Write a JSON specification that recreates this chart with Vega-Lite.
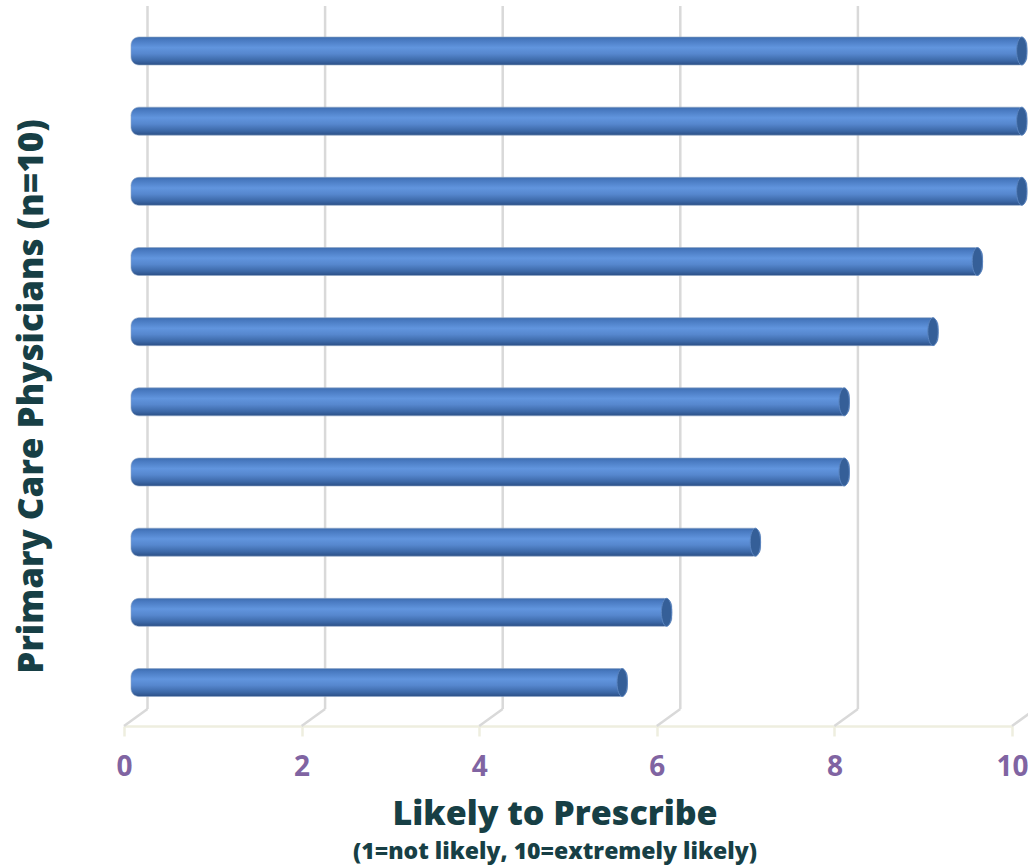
{
  "$schema": "https://vega.github.io/schema/vega-lite/v6.json",
  "width": 888,
  "height": 726,
  "autosize": {"type": "none"},
  "padding": {"left": 124, "top": 0, "right": 16, "bottom": 139},
  "background": "white",
  "config": {"view": {"stroke": null}, "font": "Open Sans"},
  "datasets": {
    "scores": [
      {"physician": 1, "score": 10},
      {"physician": 2, "score": 10},
      {"physician": 3, "score": 10},
      {"physician": 4, "score": 9.5},
      {"physician": 5, "score": 9},
      {"physician": 6, "score": 8},
      {"physician": 7, "score": 8},
      {"physician": 8, "score": 7},
      {"physician": 9, "score": 6},
      {"physician": 10, "score": 5.5}
    ],
    "ticks": [
      {"tick": 0}, {"tick": 2}, {"tick": 4}, {"tick": 6}, {"tick": 8}, {"tick": 10}
    ]
  },
  "title": {
    "text": "Likely to Prescribe",
    "subtitle": "(1=not likely, 10=extremely likely)",
    "orient": "bottom",
    "anchor": "middle",
    "font": "Open Sans",
    "fontSize": 34,
    "fontWeight": 800,
    "color": "#173f45",
    "subtitleFont": "Open Sans",
    "subtitleFontSize": 23,
    "subtitleFontWeight": 800,
    "subtitleColor": "#173f45",
    "subtitlePadding": 9,
    "offset": 17,
    "dx": -13
  },
  "layer": [
    {
      "data": {"name": "ticks"},
      "mark": {"type": "rule", "color": "#d9d9d9", "strokeWidth": 2.5, "xOffset": 23.5},
      "encoding": {
        "x": {"field": "tick", "type": "quantitative", "scale": {"domain": [0, 10], "nice": false, "zero": false, "padding": 0}},
        "y": {"datum": 0.3587, "type": "quantitative"},
        "y2": {"datum": 10.377}
      }
    },
    {
      "data": {"name": "ticks"},
      "mark": {"type": "rule", "color": "#d9d9d9", "strokeWidth": 2.5, "xOffset": 23.5, "x2Offset": 0},
      "encoding": {
        "x": {"field": "tick", "type": "quantitative"},
        "x2": {"field": "tick"},
        "y": {"datum": 10.377, "type": "quantitative"},
        "y2": {"datum": 10.6196}
      }
    },
    {
      "data": {"name": "scores"},
      "mark": {
        "type": "bar",
        "orient": "horizontal",
        "size": 28,
        "cornerRadius": 8,
        "xOffset": 15,
        "x2Offset": 7,
        "stroke": "#8ea6c6",
        "strokeWidth": 0.6,
        "color": {
          "gradient": "linear",
          "x1": 0, "y1": 0, "x2": 0, "y2": 1,
          "stops": [
            {"offset": 0, "color": "#3d6cad"},
            {"offset": 0.1, "color": "#4879c0"},
            {"offset": 0.38, "color": "#6195de"},
            {"offset": 0.6, "color": "#5687ce"},
            {"offset": 0.85, "color": "#3c68a7"},
            {"offset": 1, "color": "#2b4f86"}
          ]
        }
      },
      "encoding": {
        "x": {
          "field": "score",
          "type": "quantitative",
          "scale": {"domain": [0, 10], "nice": false, "zero": false, "padding": 0},
          "axis": {
            "values": [0, 2, 4, 6, 8, 10],
            "format": "d",
            "grid": false,
            "title": null,
            "domainColor": "#eeeedf",
            "domainWidth": 2.5,
            "tickColor": "#eeeedf",
            "tickWidth": 2.5,
            "tickSize": 10,
            "labelFlush": false,
            "labelOverlap": false,
            "labelBound": false,
            "labelFont": "Open Sans",
            "labelFontSize": 28,
            "labelFontWeight": "bold",
            "labelColor": "#8064a2",
            "labelPadding": 17
          }
        },
        "x2": {"datum": 0},
        "y": {
          "field": "physician",
          "type": "quantitative",
          "scale": {"domain": [0.2732, 10.6196], "reverse": true, "nice": false, "zero": false, "padding": 0},
          "axis": {
            "labels": false,
            "ticks": false,
            "domain": false,
            "grid": false,
            "title": "Primary Care Physicians (n=10)",
            "titleFont": "Open Sans",
            "titleFontSize": 35,
            "titleFontWeight": 800,
            "titleColor": "#173f45",
            "titleAngle": -90,
            "titleX": -93,
            "titleY": 396,
            "titleAlign": "center",
            "titleBaseline": "middle"
          }
        }
      }
    },
    {
      "data": {"name": "scores"},
      "mark": {
        "type": "point",
        "shape": "M0,-1A0.37,1,0,1,1,0,1A0.37,1,0,1,1,0,-1Z",
        "size": 784,
        "filled": true,
        "fill": "#355f98",
        "stroke": "#5a84bf",
        "strokeWidth": 1,
        "opacity": 1,
        "xOffset": 9.8
      },
      "encoding": {
        "x": {"field": "score", "type": "quantitative"},
        "y": {"field": "physician", "type": "quantitative"}
      }
    }
  ]
}
